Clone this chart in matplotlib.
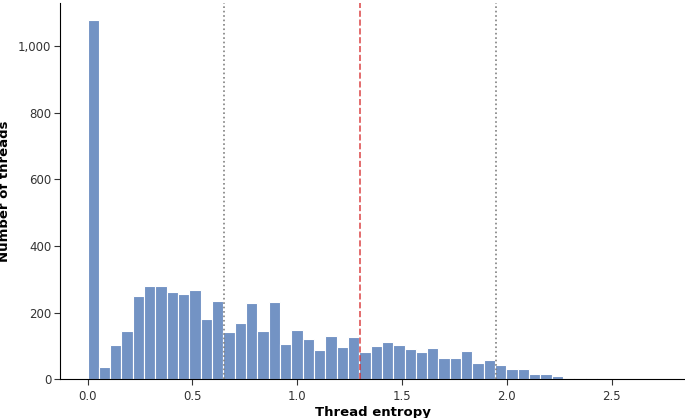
import numpy as np
import matplotlib
matplotlib.use("Agg")
import matplotlib.pyplot as plt

counts = [1080, 37, 103, 146, 251, 281, 281, 262, 256, 268, 182, 236, 143, 169, 229, 144,
          232, 106, 147, 120, 87, 131, 96, 126, 82, 100, 111, 103, 89, 82, 94, 64, 64, 84,
          48, 58, 43, 31, 31, 16, 15, 9, 4, 3, 2, 1, 1, 0, 1, 1]
bin_min, bin_max = 0.0, 2.7
vlines_dotted = [0.65, 1.95]
vline_dashed = 1.3
xticks = [0.0, 0.5, 1.0, 1.5, 2.0, 2.5]
yticks = [0, 200, 400, 600, 800, 1000]

edges = np.linspace(bin_min, bin_max, len(counts) + 1)
fig = plt.figure(figsize=(6.85, 4.18), dpi=100)
ax = fig.add_axes([0.088, 0.093, 0.912, 0.9])
ax.bar(edges[:-1], counts, width=np.diff(edges), align="edge", color="#7393c4",
       edgecolor="white", linewidth=0.8)
for v in vlines_dotted:
    ax.axvline(v, color="grey", linestyle=":", linewidth=1.2)
ax.axvline(vline_dashed, color="#d62728", linestyle="--", linewidth=1.2, alpha=0.8)
ax.set_xlim(-0.13, 2.85)
ax.set_ylim(0, 1130)
ax.set_xticks(xticks)
ax.set_yticks(yticks)
ax.set_yticklabels([f"{t:,}" for t in yticks])
ax.tick_params(labelsize=8.5, colors="#333333", direction="out", length=4, pad=2.5)
ax.tick_params(axis="x", pad=4)
ax.set_xlabel("Thread entropy", fontsize=9.5, fontweight="bold", labelpad=2)
ax.set_ylabel("Number of threads", fontsize=9.5, fontweight="bold", labelpad=5)
for s in ["top", "right"]:
    ax.spines[s].set_visible(False)
fig.savefig("out.png", dpi=100)
